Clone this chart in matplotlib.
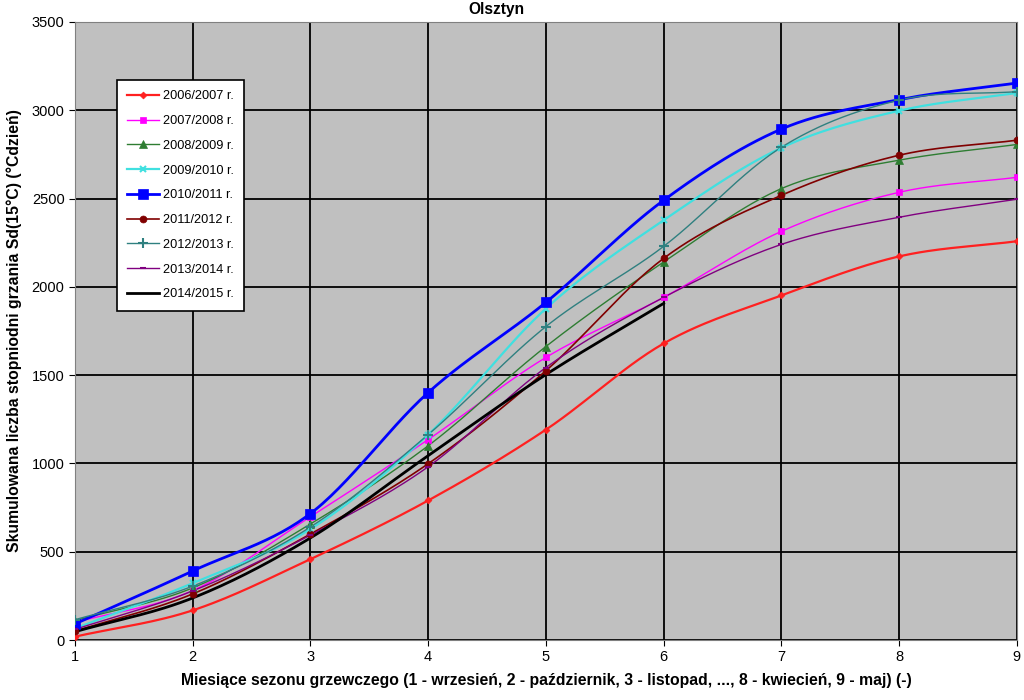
import numpy as np
import matplotlib.pyplot as plt

plt.rcParams["font.family"] = ["Liberation Sans", "DejaVu Sans"]

# Months of heating season (1 = September ... 9 = May)
months = [1, 2, 3, 4, 5, 6, 7, 8, 9]

# Cumulated degree-days Sd(15°C) per season
s2006 = [19, 168, 458, 790, 1191, 1679, 1951, 2172, 2258]
s2007 = [100, 280, 698, 1135, 1600, 1940, 2314, 2535, 2620]
s2008 = [110, 295, 657, 1100, 1662, 2140, 2556, 2717, 2806]
s2009 = [65, 322, 628, 1163, 1877, 2377, 2787, 2997, 3098]
s2010 = [91, 391, 716, 1401, 1912, 2490, 2893, 3060, 3154]
s2011 = [50, 261, 600, 998, 1525, 2161, 2518, 2745, 2830]
s2012 = [115, 305, 640, 1163, 1775, 2229, 2790, 3057, 3105]
s2013 = [60, 278, 594, 981, 1543, 1940, 2240, 2394, 2496]
s2014 = [47, 238, 578, 1044, 1503, 1906]

labels = ["2006/2007 r.", "2007/2008 r.", "2008/2009 r.", "2009/2010 r.",
          "2010/2011 r.", "2011/2012 r.", "2012/2013 r.", "2013/2014 r.",
          "2014/2015 r."]
series = [s2006, s2007, s2008, s2009, s2010, s2011, s2012, s2013, s2014]

# style per series: colour, marker, marker size, line width
styles = [
    ("#ff2020", "D", 3.5, 1.6),
    ("#ff00ff", "s", 5, 1.0),
    ("#2e7d32", "^", 5.5, 1.0),
    ("#40e0e0", "x", 5, 1.6),
    ("#0000ff", "s", 6.5, 2.0),
    ("#800000", "o", 5, 1.2),
    ("#2f8080", "+", 7, 1.0),
    ("#800080", "_", 5, 1.0),
    ("#000000", "", 0, 2.0),
]


def smooth(x, y, n=30):
    # Catmull-Rom curve through the points (like Excel smoothed line)
    x = np.asarray(x, float)
    y = np.asarray(y, float)
    px = np.concatenate([[2 * x[0] - x[1]], x, [2 * x[-1] - x[-2]]])
    py = np.concatenate([[2 * y[0] - y[1]], y, [2 * y[-1] - y[-2]]])
    xs, ys = [], []
    t = np.linspace(0, 1, n)
    for i in range(1, len(px) - 2):
        for p, out in ((px, xs), (py, ys)):
            p0, p1, p2, p3 = p[i - 1], p[i], p[i + 1], p[i + 2]
            out.extend(0.5 * ((2 * p1) + (-p0 + p2) * t
                              + (2 * p0 - 5 * p1 + 4 * p2 - p3) * t ** 2
                              + (-p0 + 3 * p1 - 3 * p2 + p3) * t ** 3))
    return xs, ys


fig = plt.figure(figsize=(10.24, 7), dpi=100)
ax = fig.add_axes([0.0732, 0.0857, 0.9198, 0.883])
ax.set_facecolor("#c0c0c0")

for vals, lab, (col, mk, ms, lw) in zip(series, labels, styles):
    xm = months[:len(vals)]
    xs, ys = smooth(xm, vals)
    mew = 1.5 if mk in "x+_" else 0.5
    ax.plot(xs, ys, color=col, lw=lw, zorder=3)
    ax.plot(xm, vals, linestyle="none", marker=mk, markersize=ms,
            color=col, markeredgewidth=mew, zorder=4)
    # legend proxy
    ax.plot([], [], color=col, lw=lw, marker=mk, markersize=ms,
            markeredgewidth=mew, label=lab)

ax.set_xlim(1, 9)
ax.set_ylim(0, 3500)
ax.set_xticks(months)
ax.set_yticks(range(0, 3501, 500))
ax.grid(True, color="black", lw=1.3)
ax.set_axisbelow(True)
for sp in ax.spines.values():
    sp.set_color("#808080")
ax.tick_params(labelsize=10.5, length=4)

fig.text(0.485, 0.997, "Olsztyn", ha="center", va="top",
         fontsize=11.2, fontweight="bold")
ax.set_xlabel("Miesiące sezonu grzewczego (1 - wrzesień, 2 - październik, "
              "3 - listopad, ..., 8 - kwiecień, 9 - maj) (-)",
              fontsize=11.3, fontweight="bold", labelpad=6)
ax.set_ylabel("Skumulowana liczba stopniodni grzania Sd(15°C) (°Cdzień)",
              fontsize=11.3, fontweight="bold", labelpad=7)

leg = ax.legend(loc="upper left", bbox_to_anchor=(0.0446, 0.906),
                fontsize=9.2, labelspacing=1.0, handlelength=2.5,
                handletextpad=0.3, fancybox=False, framealpha=1,
                borderpad=0.8, borderaxespad=0)
leg.get_frame().set_edgecolor("black")
leg.get_frame().set_linewidth(1.2)

fig.savefig("out.png", dpi=100)
